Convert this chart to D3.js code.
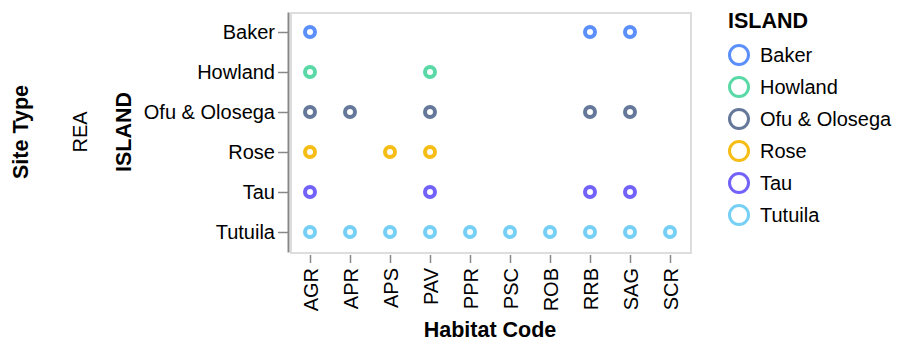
<!DOCTYPE html>
<html>
<head>
<meta charset="utf-8">
<script src="https://cdn.jsdelivr.net/npm/d3@7"></script>
<style>
  body { margin: 0; background: #fff; }
  text { font-family: 'Liberation Sans', Arial, sans-serif; fill: #000; }
</style>
</head>
<body>
<div class="container"></div>
<script>
const islands = ['Baker', 'Howland', 'Ofu & Olosega', 'Rose', 'Tau', 'Tutuila'];
const habitats = ['AGR', 'APR', 'APS', 'PAV', 'PPR', 'PSC', 'ROB', 'RRB', 'SAG', 'SCR'];
const islandColors = ['#5b8ff9', '#5ad8a6', '#65789a', '#f6bd16', '#7262fa', '#76cff4'];

// habitat codes surveyed on each island
const bakerHabitats = ['AGR', 'RRB', 'SAG'];
const howlandHabitats = ['AGR', 'PAV'];
const ofuOlosegaHabitats = ['AGR', 'APR', 'PAV', 'RRB', 'SAG'];
const roseHabitats = ['AGR', 'APS', 'PAV'];
const tauHabitats = ['AGR', 'PAV', 'RRB', 'SAG'];
const tutuilaHabitats = ['AGR', 'APR', 'APS', 'PAV', 'PPR', 'PSC', 'ROB', 'RRB', 'SAG', 'SCR'];

const siteType = 'REA';

const habitatLists = [bakerHabitats, howlandHabitats, ofuOlosegaHabitats, roseHabitats, tauHabitats, tutuilaHabitats];
const data = islands.map((island, i) => habitatLists[i].map(h => ({ island, habitat: h }))).flat();

const render = () => {
  const width = 902;
  const height = 352;
  const left = 290;
  const top = 12;
  const chartWidth = 400;
  const chartHeight = 240;
  const labelSize = 20;
  const titleSize = 21.5;

  const svg = d3.select('.container').append('svg').attr('width', width).attr('height', height);

  const xScale = d3.scalePoint().domain(habitats).range([left, left + chartWidth]).padding(0.5);
  const yScale = d3.scalePoint().domain(islands).range([top, top + chartHeight]).padding(0.5);
  const color = d3.scaleOrdinal().domain(islands).range(islandColors);

  // frame
  svg
    .append('rect')
    .attr('x', left + 1)
    .attr('y', top + 1)
    .attr('width', chartWidth)
    .attr('height', chartHeight)
    .attr('fill', 'none')
    .attr('stroke', '#ddd')
    .attr('stroke-width', 2);

  // y axis
  const leftAxisGroup = svg.append('g').attr('class', 'left-axis').attr('transform', 'translate(288,0)');
  d3.axisLeft(yScale).tickSize(10).tickSizeOuter(0).tickPadding(3)(leftAxisGroup);
  leftAxisGroup.select('.domain').attr('stroke', '#888').attr('stroke-width', 2);
  leftAxisGroup.selectAll('.tick line').attr('stroke', '#888').attr('stroke-width', 1.5);
  leftAxisGroup.selectAll('.tick text').attr('font-size', labelSize).attr('font-family', null);

  // x axis
  const bottomAxisGroup = svg.append('g').attr('class', 'bottom-axis').attr('transform', 'translate(0,255)');
  d3.axisBottom(xScale).tickSize(8).tickSizeOuter(0)(bottomAxisGroup);
  bottomAxisGroup.select('.domain').remove();
  bottomAxisGroup.selectAll('.tick line').attr('stroke', '#888').attr('stroke-width', 1.5);
  bottomAxisGroup
    .selectAll('.tick text')
    .attr('font-size', labelSize)
    .attr('font-family', null)
    .attr('transform', 'rotate(-90)')
    .attr('text-anchor', 'end')
    .attr('x', -13)
    .attr('y', 0)
    .attr('dy', '0.35em');

  // points
  svg
    .append('g')
    .attr('class', 'points')
    .selectAll('circle')
    .data(data)
    .enter()
    .append('circle')
    .attr('cx', d => xScale(d.habitat))
    .attr('cy', d => yScale(d.island))
    .attr('r', 5)
    .attr('fill', 'none')
    .attr('stroke', d => color(d.island))
    .attr('stroke-width', 4);

  // titles
  svg
    .append('text')
    .text('Habitat Code')
    .attr('x', left + chartWidth / 2)
    .attr('y', 337)
    .attr('text-anchor', 'middle')
    .attr('font-size', titleSize)
    .attr('font-weight', 'bold');

  svg
    .append('text')
    .text('ISLAND')
    .attr('transform', `translate(131,${top + chartHeight / 2}) rotate(-90)`)
    .attr('text-anchor', 'middle')
    .attr('font-size', titleSize)
    .attr('font-weight', 'bold');

  svg
    .append('text')
    .text(siteType)
    .attr('transform', `translate(87,${top + chartHeight / 2}) rotate(-90)`)
    .attr('text-anchor', 'middle')
    .attr('font-size', labelSize);

  svg
    .append('text')
    .text('Site Type')
    .attr('transform', `translate(27.5,${top + chartHeight / 2}) rotate(-90)`)
    .attr('text-anchor', 'middle')
    .attr('font-size', titleSize)
    .attr('font-weight', 'bold');

  // legend
  const legend = svg.append('g').attr('class', 'legend').attr('transform', 'translate(728,0)');
  legend
    .append('text')
    .text('ISLAND')
    .attr('x', 0)
    .attr('y', 28)
    .attr('font-size', titleSize)
    .attr('font-weight', 'bold');

  const item = legend
    .selectAll('.item')
    .data(islands)
    .enter()
    .append('g')
    .attr('class', 'item')
    .attr('transform', (d, i) => `translate(0,${55 + i * 32})`);

  item
    .append('circle')
    .attr('cx', 11)
    .attr('cy', 0)
    .attr('r', 9.5)
    .attr('fill', 'none')
    .attr('stroke', d => color(d))
    .attr('stroke-width', 3);

  item
    .append('text')
    .text(d => d)
    .attr('x', 32)
    .attr('y', 0)
    .attr('dy', '0.35em')
    .attr('font-size', labelSize);
};

render();
</script>
</body>
</html>
